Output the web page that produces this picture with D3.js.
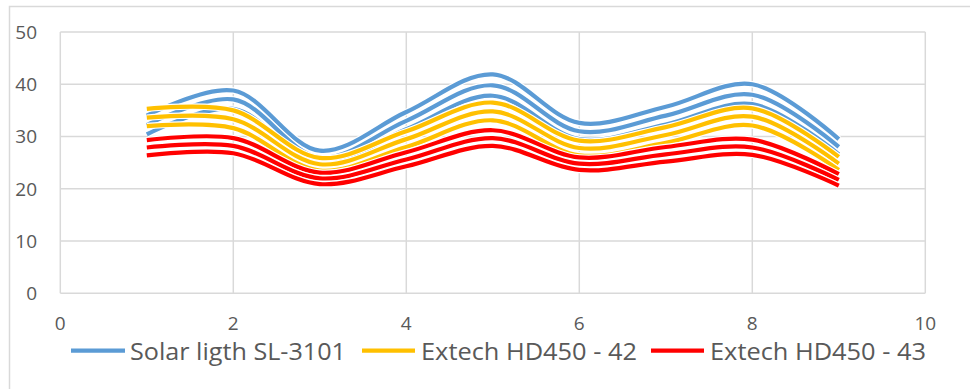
<!DOCTYPE html>
<html><head><meta charset="utf-8">
<script src="https://cdn.jsdelivr.net/npm/d3@7"></script>
<style>
body{margin:0;background:#fff}
svg{display:block}
text{font-family:"Open Sans","Noto Sans",sans-serif;fill:#595959}
</style>
</head><body>
<svg id="chart" width="970" height="389"></svg>
<script>
// ---- data ----
const xValues = [1, 2, 3, 4, 5, 6, 7, 8, 9];
const seriesNames = ["Solar ligth SL-3101", "Extech HD450 - 42", "Extech HD450 - 43"];

const solarHigh = [34.0, 38.8, 27.3, 34.7, 41.9, 32.6, 35.7, 40.0, 29.5];
const solarMid  = [32.2, 37.1, 26.0, 33.0, 39.8, 31.0, 34.0, 38.0, 28.0];
const solarLow  = [30.4, 35.3, 24.7, 31.4, 37.8, 29.5, 32.3, 36.2, 26.6];

const ext42High = [35.3, 35.0, 25.9, 31.0, 36.5, 29.2, 31.8, 35.4, 26.1];
const ext42Mid  = [33.6, 33.3, 24.7, 29.5, 34.8, 27.8, 30.3, 33.8, 24.8];
const ext42Low  = [32.0, 31.6, 23.5, 28.0, 33.1, 26.4, 28.8, 32.1, 23.6];

const ext43High = [29.3, 29.7, 23.1, 27.0, 31.2, 26.0, 28.0, 29.4, 22.8];
const ext43Mid  = [27.9, 28.2, 22.0, 25.6, 29.7, 24.8, 26.6, 27.9, 21.7];
const ext43Low  = [26.4, 26.8, 20.9, 24.3, 28.2, 23.6, 25.2, 26.5, 20.6];

const xTicks = [0, 2, 4, 6, 8, 10];
const yTicks = [0, 10, 20, 30, 40, 50];

// ---- styles ----
const colors = ["#5B9BD5", "#FFC000", "#FF0000"];
const groups = [
  [solarHigh, solarMid, solarLow],
  [ext42High, ext42Mid, ext42Low],
  [ext43High, ext43Mid, ext43Low]
];

const svg = d3.select("#chart");
svg.append("rect").attr("x", 0).attr("y", 0).attr("width", 970).attr("height", 389).attr("fill", "#fff");
// chart area border
svg.append("rect").attr("x", 9.5).attr("y", 6.5).attr("width", 1000).attr("height", 420)
  .attr("fill", "none").attr("stroke", "#d9d9d9").attr("stroke-width", 1.5);

const x = d3.scaleLinear().domain([0, 10]).range([60.3, 925.3]);
const y = d3.scaleLinear().domain([0, 50]).range([293.3, 32]);

// gridlines
const grid = svg.append("g").attr("stroke", "#d9d9d9").attr("stroke-width", 1.5);
grid.selectAll(".h").data(yTicks).join("line")
  .attr("x1", x(0)).attr("x2", x(10)).attr("y1", d => y(d)).attr("y2", d => y(d));
grid.selectAll(".v").data(xTicks).join("line")
  .attr("y1", y(0)).attr("y2", y(50)).attr("x1", d => x(d)).attr("x2", d => x(d));

// tick labels
svg.append("g").selectAll("text").data(yTicks).join("text")
  .attr("x", 37).attr("y", d => y(d)).attr("dy", "0.36em")
  .attr("text-anchor", "end").attr("font-size", 19).text(d => d);
svg.append("g").selectAll("text").data(xTicks).join("text")
  .attr("x", d => x(d)).attr("y", 330)
  .attr("text-anchor", "middle").attr("font-size", 19).text(d => d);

// lines
const line = d3.line()
  .x((d, i) => x(xValues[i]))
  .y(d => y(d))
  .curve(d3.curveCatmullRom.alpha(0.5));

const lg = svg.append("g").attr("fill", "none").attr("stroke-linecap", "butt").attr("stroke-linejoin", "round");
groups.forEach((g, gi) => {
  g.forEach(vals => {
    lg.append("path").attr("d", line(vals)).attr("stroke", "#fff").attr("stroke-width", 6.5);
    lg.append("path").attr("d", line(vals)).attr("stroke", colors[gi]).attr("stroke-width", 4.2);
  });
});

// legend
const legendItems = [
  {lx1: 71, lx2: 125, tx: 130},
  {lx1: 362, lx2: 415, tx: 421},
  {lx1: 651, lx2: 704, tx: 710}
];
const leg = svg.append("g");
seriesNames.forEach((name, i) => {
  const it = legendItems[i];
  leg.append("line").attr("x1", it.lx1).attr("x2", it.lx2).attr("y1", 350.7).attr("y2", 350.7)
    .attr("stroke", colors[i]).attr("stroke-width", 4.2);
  leg.append("text").attr("x", it.tx).attr("y", 360).attr("font-size", 23)
    .attr("textLength", 216).attr("lengthAdjust", "spacingAndGlyphs").text(name);
});
</script>
</body></html>
